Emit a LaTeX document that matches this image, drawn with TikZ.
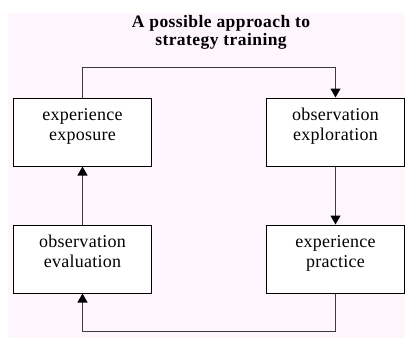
\documentclass[tikz,border=0pt]{standalone}
\usepackage{fontspec}
\setmainfont{Liberation Serif}
\newfontfamily\titlefont[LetterSpace=2.5]{Liberation Serif}
\newfontfamily\boxfont[LetterSpace=1.5]{Liberation Serif}
\usetikzlibrary{arrows.meta}
\definecolor{bgpink}{RGB}{255,245,253}
\definecolor{linegray}{RGB}{60,60,60}
\tikzset{
  stagebox/.style={draw=black, line width=1pt, fill=white, inner sep=0pt},
  conn/.style={draw=linegray, line width=1.1pt, -{Triangle[width=10pt,length=9pt,color=black]}},
}
\newcommand{\boxtext}[2]{\parbox[c][68pt][t]{138pt}{\centering\boxfont\fontsize{18}{20}\selectfont\rule{0pt}{22pt}#1\\#2}}
\begin{document}
\begin{tikzpicture}[x=1pt,y=-1pt]
\useasboundingbox (0,0) rectangle (406,338);
\fill[bgpink] (8,13) rectangle (405,338);
\node[inner sep=0pt, align=center, font=\titlefont\bfseries\fontsize{17.5}{17.6}\selectfont] (title) at (221,32.5) {A possible approach to\\strategy training};
\node[stagebox] (A) at (82.5,132) {\boxtext{experience}{exposure}};
\node[stagebox] (B) at (335.5,132) {\boxtext{observation}{exploration}};
\node[stagebox] (C) at (335.5,259) {\boxtext{experience}{practice}};
\node[stagebox] (D) at (82.5,259) {\boxtext{observation}{evaluation}};
\draw[conn] (A.north) -- ++(0,-30) -| (B.north);
\draw[conn] (B.south) -- (C.north);
\draw[conn] (C.south) -- ++(0,38) -| (D.south);
\draw[conn] (D.north) -- (A.south);
\end{tikzpicture}
\end{document}
